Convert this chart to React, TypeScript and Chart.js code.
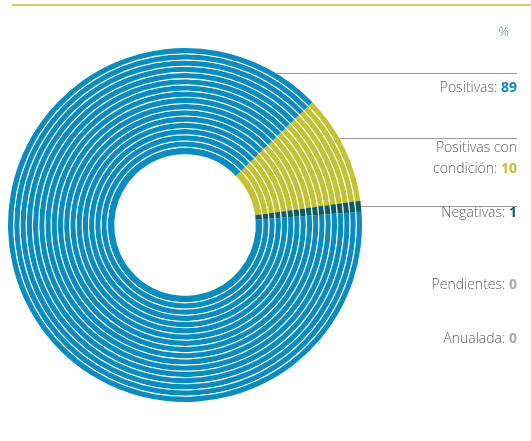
import React, { useEffect, useRef } from "react";
import { Chart, registerables } from "chart.js";

Chart.register(...registerables);

const categories = ["Positivas", "Positivas con condición", "Negativas", "Pendientes", "Anualada"];
const values = [89, 10, 1, 0, 0];
const segmentColors = ["#0b8cbf", "#c3c232", "#0e5b63", "#a7a9ac", "#a7a9ac"];
const valueColors = ["#0b8cbf", "#c3c232", "#0e5b63", "#a7a9ac", "#a7a9ac"];
const unitLabel = "%";

const RING_COUNT = 17;

const FONT = '"Open Sans", "Noto Sans", sans-serif';

function wrapWords(ctx: CanvasRenderingContext2D, text: string, maxW: number): string[] {
  const words = text.split(" ");
  const lines: string[] = [];
  let cur = "";
  for (const w of words) {
    const t = cur ? cur + " " + w : w;
    if (ctx.measureText(t + ": 00").width > maxW && cur) {
      lines.push(cur);
      cur = w;
    } else cur = t;
  }
  lines.push(cur);
  return lines;
}

const annotations = {
  id: "annotations",
  afterDraw(chart: any) {
    const ctx: CanvasRenderingContext2D = chart.ctx;
    const arc = chart.getDatasetMeta(0).data[0];
    const cx = arc.x;
    const cy = arc.y;
    const R = arc.outerRadius;
    const rightX = 517;
    ctx.save();
    // top rule
    ctx.fillStyle = "#d2d068";
    ctx.fillRect(12, 4, 531 - 12, 2);
    // unit
    ctx.font = `300 13px ${FONT}`;
    ctx.fillStyle = "#5d8791";
    ctx.textAlign = "right";
    ctx.textBaseline = "middle";
    ctx.fillText(unitLabel, 509, 32);

    // leader lines
    const leaderY = [73, 138, 206];
    ctx.strokeStyle = "#9b9b9b";
    ctx.lineWidth = 1;
    leaderY.forEach((y) => {
      const dy = y - cy;
      const x0 = cx + Math.sqrt(Math.max(R * R - dy * dy, 0));
      ctx.beginPath();
      ctx.moveTo(x0, y + 0.5);
      ctx.lineTo(rightX, y + 0.5);
      ctx.stroke();
    });

    // labels
    const labelY = [88, 148, 213, 285, 339];
    const lineGap = 21.5;
    categories.forEach((name, i) => {
      const numText = String(values[i]);
      ctx.font = `bold 14px ${FONT}`;
      const numW = ctx.measureText(numText).width;
      ctx.font = `300 14px ${FONT}`;
      const lines = wrapWords(ctx, name, 110);
      lines.forEach((ln, j) => {
        const y = labelY[i] + j * lineGap;
        const last = j === lines.length - 1;
        ctx.font = `300 14px ${FONT}`;
        ctx.fillStyle = "#5f6062";
        ctx.textAlign = "right";
        if (last) {
          ctx.fillText(ln + ": ", rightX - numW, y);
          ctx.font = `bold 14px ${FONT}`;
          ctx.fillStyle = valueColors[i];
          ctx.fillText(numText, rightX, y);
        } else {
          ctx.fillText(ln, rightX, y);
        }
      });
    });
    ctx.restore();
  },
};

export default function App() {
  const ref = useRef<HTMLCanvasElement | null>(null);
  useEffect(() => {
    if (!ref.current) return;
    const datasets: any[] = [];
    for (let r = 0; r < RING_COUNT; r++) {
      const inner = r === RING_COUNT - 1;
      datasets.push({
        data: values,
        backgroundColor: segmentColors,
        borderWidth: 0,
        hoverBorderWidth: 0,
        hoverOffset: 0,
        weight: inner ? 6.5 : 5.15,
      });
      if (!inner) {
        datasets.push({
          data: values,
          backgroundColor: "#ffffff",
          borderWidth: 0,
          hoverBorderWidth: 0,
          hoverOffset: 0,
          weight: 1.05,
        });
      }
    }
    const chart = new Chart(ref.current, {
      type: "doughnut",
      data: { labels: categories, datasets },
      options: {
        responsive: false,
        animation: false,
        cutout: "40%",
        rotation: 85.7,
        layout: { padding: { left: 8, top: 48, right: 169, bottom: 39 } },
        plugins: {
          legend: { display: false },
          tooltip: { enabled: false },
        },
        events: [],
      },
      plugins: [annotations],
    });
    return () => chart.destroy();
  }, []);
  return (
    <div style={{ position: "absolute", left: 0, top: 0, width: 531, height: 441, background: "#fff" }}>
      <canvas ref={ref} width={531} height={441} style={{ display: "block" }} />
    </div>
  );
}
